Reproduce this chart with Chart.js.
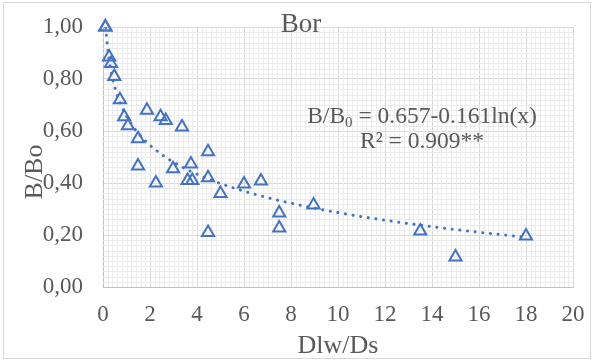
<!DOCTYPE html>
<html>
<head>
<meta charset="utf-8">
<script src="https://cdn.jsdelivr.net/npm/chart.js@4"></script>
<style>
  html, body { margin: 0; padding: 0; background: #fff; }
  #wrap { width: 594px; height: 362px; position: relative; }
</style>
</head>
<body>
<div id="wrap"><canvas id="chart"></canvas></div>
<script>
// data
const dlwDs = [0.1, 0.1, 0.26, 0.34, 0.48, 0.72, 0.9, 1.06, 1.49, 1.49, 1.87, 2.25, 2.45, 2.67, 2.98,
  3.36, 3.6, 3.74, 3.8, 4.47, 4.47, 4.47, 5.0, 6.0, 6.72, 7.5, 7.5, 8.96, 13.5, 15.0, 18.0];
const bBo = [1.0, 1.0, 0.885, 0.86, 0.81, 0.72, 0.655, 0.62, 0.57, 0.465, 0.68, 0.40, 0.655, 0.64, 0.455,
  0.615, 0.41, 0.473, 0.41, 0.52, 0.42, 0.21, 0.36, 0.396, 0.408, 0.285, 0.227, 0.315, 0.215, 0.115, 0.196];

// log trendline shown on the chart: B/B0 = a - b ln(x)
const fitA = 0.657;
const fitB = 0.161;
const fitFrom = 0.1;
const fitTo = 18;

const xTicks = [0, 2, 4, 6, 8, 10, 12, 14, 16, 18, 20];
const yTicks = [0, 0.2, 0.4, 0.6, 0.8, 1.0];

const blue = '#4472C4';
const textCol = '#595959';
const serif = "'Liberation Serif', 'Times New Roman', serif";

const trend = [];
for (let i = 0; i <= 300; i++) {
  const x = fitFrom * Math.pow(fitTo / fitFrom, i / 300);
  trend.push({ x, y: fitA - fitB * Math.log(x) });
}

const points = dlwDs.map((x, i) => ({ x, y: bBo[i] }));

const decor = {
  id: 'decor',
  beforeDraw(chart) {
    const c = chart.ctx;
    c.save();
    c.fillStyle = '#fff';
    c.fillRect(0, 0, chart.width, chart.height);
    c.strokeStyle = '#d9d9d9';
    c.lineWidth = 1;
    c.strokeRect(3.5, 2.5, 587, 356);
    c.restore();
  },
  beforeDatasetsDraw(chart) {
    // minor gridlines
    const c = chart.ctx;
    const xs = chart.scales.x, ys = chart.scales.y;
    const a = chart.chartArea;
    c.save();
    c.strokeStyle = '#ececec';
    c.lineWidth = 1;
    c.beginPath();
    for (let i = 1; i < 100; i++) {
      if (i % 10 === 0) continue;
      const px = Math.round(xs.getPixelForValue(i * 0.2)) + 0.5;
      c.moveTo(px, a.top); c.lineTo(px, a.bottom);
    }
    for (let i = 1; i < 50; i++) {
      if (i % 10 === 0) continue;
      const py = Math.round(ys.getPixelForValue(i * 0.02)) + 0.5;
      c.moveTo(a.left, py); c.lineTo(a.right, py);
    }
    c.stroke();
    c.restore();
  },
  afterDraw(chart) {
    const c = chart.ctx;
    c.save();
    c.fillStyle = textCol;
    c.textBaseline = 'alphabetic';

    c.font = '27px ' + serif;
    c.textAlign = 'center';
    c.fillText('Bor', 301, 32);

    c.font = '26px ' + serif;
    c.fillText('Dlw/Ds', 338, 353);

    c.save();
    c.translate(42, 172);
    c.rotate(-Math.PI / 2);
    c.fillText('B/Bo', 0, 0);
    c.restore();

    // equation with subscript
    c.textAlign = 'left';
    const big = '23.5px ' + serif, small = '15px ' + serif;
    const p1 = 'B/B', p2 = '0', p3 = ' = 0.657-0.161ln(x)';
    c.font = big; const w1 = c.measureText(p1).width, w3 = c.measureText(p3).width;
    c.font = small; const w2 = c.measureText(p2).width;
    let x0 = 422 - (w1 + w2 + w3) / 2;
    c.font = big; c.fillText(p1, x0, 123);
    c.font = small; c.fillText(p2, x0 + w1, 127);
    c.font = big; c.fillText(p3, x0 + w1 + w2, 123);
    c.textAlign = 'center';
    c.fillText('R\u00b2 = 0.909**', 422, 148);
    c.restore();
  }
};

new Chart(document.getElementById('chart'), {
  type: 'scatter',
  data: {
    datasets: [
      {
        type: 'line',
        data: trend,
        borderColor: blue,
        borderWidth: 3,
        borderDash: [0.1, 7.6],
        borderCapStyle: 'round',
        pointRadius: 0,
        fill: false,
        tension: 0
      },
      {
        data: points,
        clip: false,
        pointStyle: 'triangle',
        pointRadius: 7,
        pointBorderWidth: 2,
        pointBorderColor: blue,
        pointBackgroundColor: 'rgba(255,255,255,0)',
        borderColor: blue,
        backgroundColor: 'rgba(255,255,255,0)'
      }
    ]
  },
  options: {
    responsive: true,
    maintainAspectRatio: false,
    animation: false,
    layout: { padding: { left: 0, top: 27, right: 21, bottom: 0 } },
    plugins: { legend: { display: false }, tooltip: { enabled: false }, title: { display: false } },
    scales: {
      x: {
        type: 'linear', min: 0, max: 20,
        afterBuildTicks: s => { s.ticks = xTicks.map(v => ({ value: v })); },
        afterFit: s => { s.height = 75; s.paddingLeft = 0; s.paddingRight = 0; },
        ticks: { color: textCol, font: { family: serif, size: 23 }, padding: 14 },
        grid: { color: '#d9d9d9', drawTicks: false },
        border: { color: '#bfbfbf' }
      },
      y: {
        type: 'linear', min: 0, max: 1,
        afterBuildTicks: s => { s.ticks = yTicks.map(v => ({ value: v })); },
        afterFit: s => { s.width = 103; s.paddingTop = 0; s.paddingBottom = 0; },
        ticks: {
          color: textCol, font: { family: serif, size: 23 }, padding: 20,
          callback: v => v.toFixed(2).replace('.', ',')
        },
        grid: { color: '#d9d9d9', drawTicks: false },
        border: { color: '#bfbfbf' }
      }
    }
  },
  plugins: [decor]
});
</script>
</body>
</html>
